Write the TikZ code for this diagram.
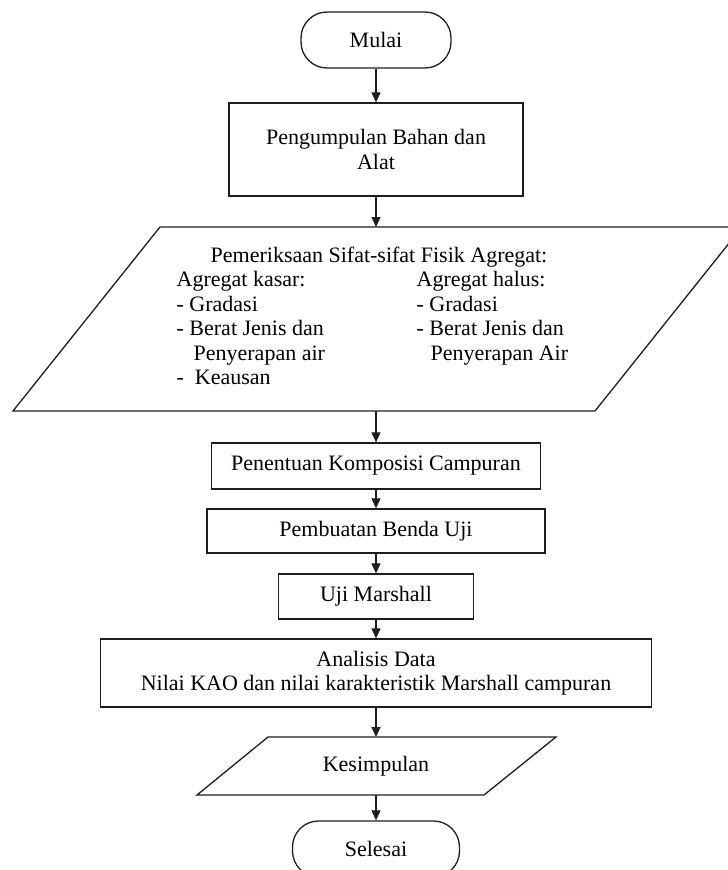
\documentclass[tikz,border=0pt]{standalone}
\usepackage{fontspec}
\setmainfont{Liberation Serif}
\usetikzlibrary{arrows.meta}
\definecolor{lineColor}{RGB}{30, 30, 30}

\begin{document}
\begin{tikzpicture}[x=1pt, y=-1pt, line width=1.3pt, draw=lineColor,
    font=\fontsize{22}{24.5}\selectfont,
    box/.style={draw, rectangle, align=center, inner sep=0pt},
    terminal/.style={draw, rectangle, rounded corners=26pt, minimum width=#1, minimum height=56pt},
    flow/.style={-{Triangle[length=10pt, width=9pt]}, line width=1.1pt}]
    \clip (0,0) rectangle (728,870);

    % Start
    \node[terminal=150pt] (mulai) at (376,40) {Mulai};
    \node[box, minimum width=294pt, minimum height=93pt] (kumpul) at (376,149.5) {Pengumpulan Bahan dan\\Alat};

    % Parallelogram of aggregate tests
    \draw (160,227) -- (742,227) -- (595,411) -- (13,411) -- cycle;
    \coordinate (periksaN) at (376,227);
    \coordinate (periksaS) at (376,411);
    \node[anchor=base] (judul) at (379,262) {Pemeriksaan Sifat-sifat Fisik Agregat:};
    % base of a multi-line node is its last line
    \node[anchor=base west, align=left, inner sep=0pt] (kasar) at (176,384.5)
        {Agregat kasar:\\- Gradasi\\- Berat Jenis dan\\\hspace*{17pt}Penyerapan air\\-\hspace*{11pt}Keausan};
    \node[anchor=base west, align=left, inner sep=0pt] (halus) at (416,360)
        {Agregat halus:\\- Gradasi\\- Berat Jenis dan\\\hspace*{14pt}Penyerapan Air};

    % Process steps
    \node[box, minimum width=329pt, minimum height=46pt] (komposisi) at (376,466) {Penentuan Komposisi Campuran};
    \node[box, minimum width=338pt, minimum height=44pt] (benda) at (376,531) {Pembuatan Benda Uji};
    \node[box, minimum width=195pt, minimum height=45pt] (uji) at (376,596.5) {Uji Marshall};
    \node[box, minimum width=551pt, minimum height=68pt] (analisis) at (376,673)
        {Analisis Data\\Nilai KAO dan nilai karakteristik Marshall campuran};

    % Conclusion and end
    \draw (268,737) -- (556,737) -- (484,795) -- (197,795) -- cycle;
    \coordinate (simpulN) at (376,737);
    \coordinate (simpulS) at (376,795);
    \node (simpul) at (376,766) {Kesimpulan};
    \node[terminal=167pt] (selesai) at (376,849) {Selesai};

    % Arrows
    \draw[flow] (mulai.south) -- (kumpul.north);
    \draw[flow] (kumpul.south) -- (periksaN);
    \draw[flow] (periksaS) -- (komposisi.north);
    \draw[flow] (komposisi.south) -- (benda.north);
    \draw[flow] (benda.south) -- (uji.north);
    \draw[flow] (uji.south) -- (analisis.north);
    \draw[flow] (analisis.south) -- (simpulN);
    \draw[flow] (simpulS) -- (selesai.north);
\end{tikzpicture}
\end{document}
